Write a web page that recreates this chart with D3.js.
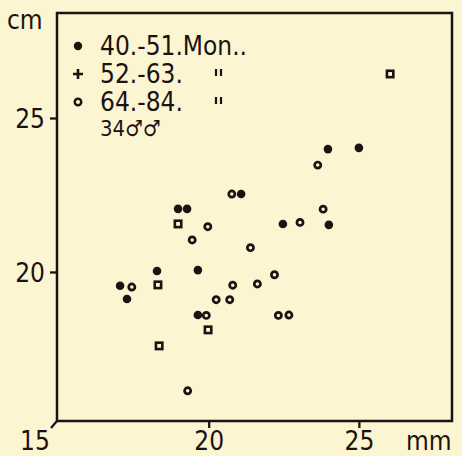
<!DOCTYPE html>
<html><head><meta charset="utf-8">
<script src="https://cdn.jsdelivr.net/npm/d3@7"></script>
<style>
html,body{margin:0;padding:0;background:#fbf5d2;}
svg{display:block;}
text{font-family:"Liberation Sans Narrow","DejaVu Sans Condensed","Liberation Sans",sans-serif;fill:#1c1212;}
</style></head>
<body><svg id="c" width="462" height="456"></svg>
<script>
// data (x: mm, y: cm)
const filledX = [17.05,17.28,18.28,18.98,19.28,19.64,19.64,21.08,22.47,24.0,23.97,25.0];
const filledY = [19.55,19.12,20.03,22.05,22.05,20.06,18.60,22.53,21.56,21.53,23.99,24.03];
const squareX = [18.98,18.31,19.98,18.35,26.04];
const squareY = [21.56,19.58,18.12,17.60,26.43];
const openX = [17.44,19.97,19.45,20.77,21.39,22.19,20.80,21.62,20.25,20.70,19.92,22.32,22.67,19.30,23.63,23.81,23.04];
const openY = [19.51,21.47,21.04,22.53,20.79,19.91,19.57,19.61,19.10,19.10,18.59,18.59,18.60,16.14,23.47,22.04,21.61];
const xTicks = [20,25];
const yTicks = [20,25];
const legendLabels = ["40.-51.Mon..","52.-63.","64.-84.","34\u2642\u2642"];
const legendMarks = ["dot","plus","ring",null];
const ink = "#1c1212";
const bg = "#fbf5d2";
const FS = 26;

const svg = d3.select("#c");
const L=57,R=452,T=13,B=421;
const x = d3.scaleLinear().domain([14.95,28.1]).range([L,R]);
const y = d3.scaleLinear().domain([15.16,28.41]).range([B,T]);

// frame
svg.append("rect").attr("x",L).attr("y",T).attr("width",R-L).attr("height",B-T)
  .attr("fill","none").attr("stroke",ink).attr("stroke-width",2.5);
// corner break stroke
svg.append("line").attr("x1",L).attr("y1",B).attr("x2",L-6).attr("y2",B+7)
  .attr("stroke",ink).attr("stroke-width",2.2);

// axes
const xAxis = d3.axisBottom(x).tickValues(xTicks).tickSize(7).tickPadding(4);
const gx = svg.append("g").attr("transform",`translate(0,${B})`).call(xAxis);
gx.select(".domain").remove();
gx.selectAll("line").attr("stroke",ink).attr("stroke-width",2.3);
gx.selectAll("text").attr("font-size",FS).attr("dy",null).attr("y",29);

const yAxis = d3.axisLeft(y).tickValues(yTicks).tickSize(7).tickPadding(4);
const gy = svg.append("g").attr("transform",`translate(${L},0)`).call(yAxis);
gy.select(".domain").remove();
gy.selectAll("line").attr("stroke",ink).attr("stroke-width",2.3);
gy.selectAll("text").attr("font-size",FS).attr("dy","0.36em").attr("x",-12);

svg.append("text").attr("x",35).attr("y",450).attr("text-anchor","middle").attr("font-size",FS).text("15");
svg.append("text").attr("x",406).attr("y",450).attr("font-size",FS).text("mm");
svg.append("text").attr("x",7).attr("y",29).attr("font-size",FS).text("cm");

// points
const pts = svg.append("g");
pts.selectAll(".o").data(openX.map((v,i)=>[v,openY[i]])).join("circle")
  .attr("cx",d=>x(d[0])).attr("cy",d=>y(d[1])).attr("r",3.1)
  .attr("fill",bg).attr("stroke",ink).attr("stroke-width",2.7);
pts.selectAll(".s").data(squareX.map((v,i)=>[v,squareY[i]])).join("rect")
  .attr("x",d=>x(d[0])-3.2).attr("y",d=>y(d[1])-3.2).attr("width",6.4).attr("height",6.4)
  .attr("fill",bg).attr("stroke",ink).attr("stroke-width",2.6);
pts.selectAll(".f").data(filledX.map((v,i)=>[v,filledY[i]])).join("circle")
  .attr("cx",d=>x(d[0])).attr("cy",d=>y(d[1])).attr("r",4.3)
  .attr("fill",ink);

// legend
const rowY = [55,83,111,136];
const lg = svg.append("g");
legendLabels.forEach((t,i)=>{
  lg.append("text").attr("x",100).attr("y",rowY[i]).attr("font-size",i===3?22:FS).text(t);
  const cy = rowY[i]-9, cx = 78;
  if(legendMarks[i]==="dot") lg.append("circle").attr("cx",cx).attr("cy",cy).attr("r",4.2).attr("fill",ink);
  if(legendMarks[i]==="plus") lg.append("path").attr("d",`M${cx-5},${cy}H${cx+5}M${cx},${cy-5}V${cy+5}`).attr("stroke",ink).attr("stroke-width",2.6);
  if(legendMarks[i]==="ring") lg.append("circle").attr("cx",cx).attr("cy",cy).attr("r",3.3).attr("fill","none").attr("stroke",ink).attr("stroke-width",2.4);
  if(i===1||i===2){
    lg.append("path").attr("d",`M216,${cy-5}V${cy+2}M221,${cy-5}V${cy+2}`).attr("stroke",ink).attr("stroke-width",2.2);
  }
});
</script></body></html>
